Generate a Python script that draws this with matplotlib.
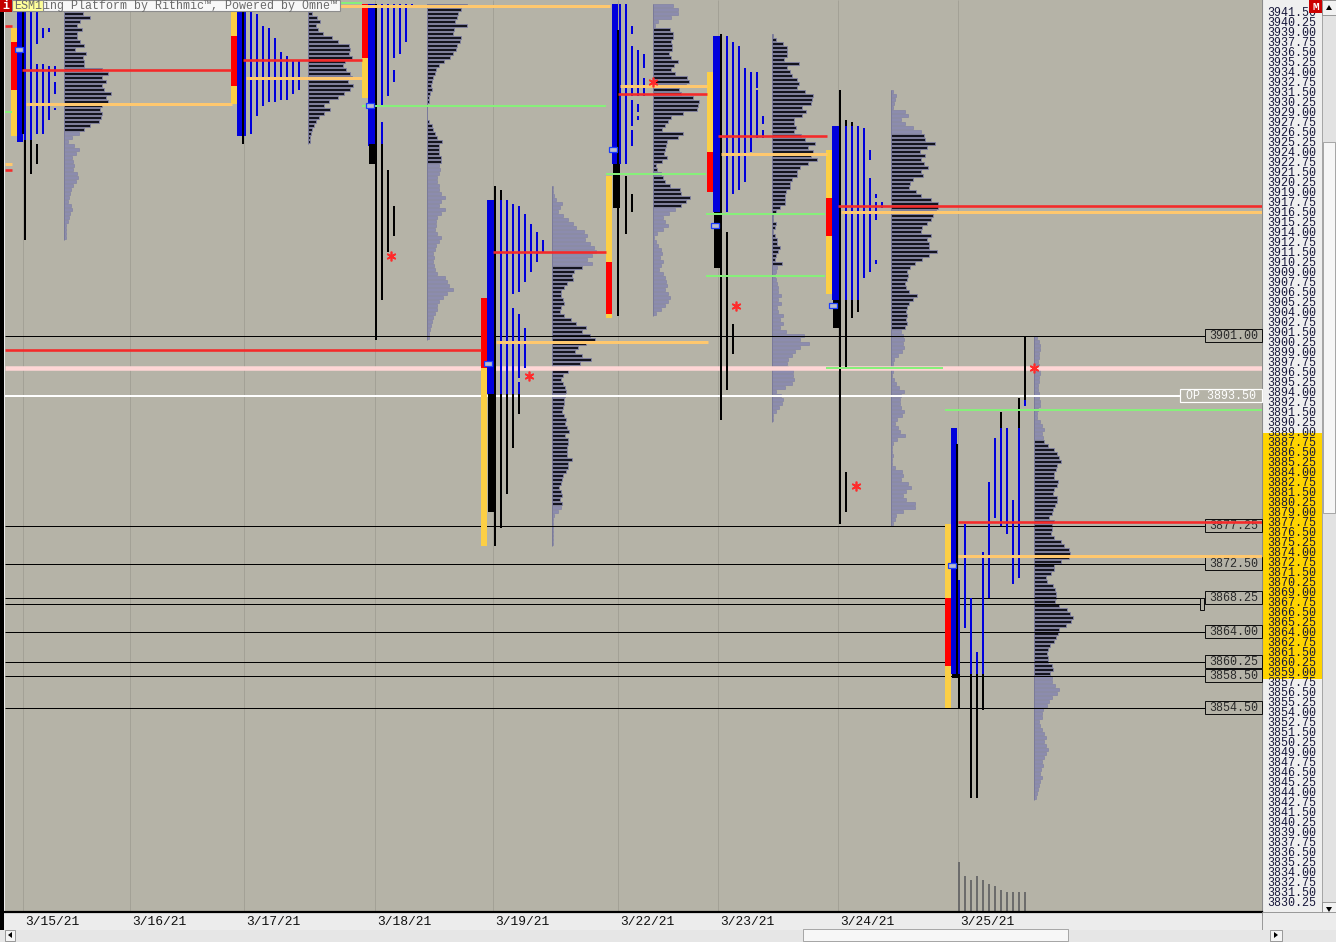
import numpy as np
import matplotlib.pyplot as plt
from matplotlib.patches import Rectangle, Polygon

plt.rcParams['font.family'] = ['Liberation Mono', 'DejaVu Sans Mono']

# ---------------- data ----------------
dates = ['3/15/21', '3/16/21', '3/17/21', '3/18/21', '3/19/21',
         '3/22/21', '3/23/21', '3/24/21', '3/25/21']
date_x = [23, 130, 244, 375, 493, 618, 718, 838, 958]

# session layout for the 8 days that have data (3/16 is empty)
va_x = [11, 231, 362, 481, 606, 707, 826, 945]
wide_w = [6, 6, 8, 8, 6, 8, 8, 6]
adj_x = [23, 243, 376, 495, 618, 721, 840, 957]
col0 = [25, 245, 382, 501, 620, 727, 846, 959]
prof_x = [64, 308, 427, 552, 653, 772, 891, 1034]

# value-area bar on the left of each day: (lo, hi, colour)
va_bars = [
    [(3937.75, 3939.5, 'y'), (3931.75, 3937.75, 'r'), (3926.0, 3931.75, 'y')],
    [(3938.5, 3941.5, 'y'), (3932.25, 3938.5, 'r'), (3930.0, 3932.25, 'y')],
    [(3935.75, 3942.5, 'r'), (3930.75, 3935.75, 'y')],
    [(3897.0, 3905.75, 'r'), (3874.75, 3897.0, 'y')],
    [(3910.25, 3921.0, 'y'), (3903.75, 3910.25, 'r'), (3903.25, 3903.75, 'y')],
    [(3924.0, 3934.0, 'y'), (3919.0, 3924.0, 'r')],
    [(3918.25, 3924.25, 'y'), (3913.5, 3918.25, 'r'), (3906.25, 3913.5, 'y')],
    [(3868.25, 3877.5, 'y'), (3859.75, 3868.25, 'r'), (3854.5, 3859.75, 'y')],
]
# first (opening) period column, blue
wide_rng = [(3925.25, 3943.0), (3926.0, 3941.5), (3924.75, 3942.5), (3893.75, 3918.0),
            (3922.5, 3942.5), (3916.5, 3938.5), (3905.5, 3927.25), (3858.75, 3889.5)]
# black block under the opening column
wide_blk = [None, None, (3922.5, 3925.0), (3879.0, 3893.75),
            (3917.0, 3922.5), (3909.5, 3916.5), (3902.0, 3905.5), (3858.25, 3858.75)]
# thin black line next to the opening column
adj_rng = [(3926.25, 3943.0), (3925.0, 3941.5), (3900.5, 3942.5), (3874.75, 3919.75),
           (3903.5, 3939.25), (3890.5, 3938.75), (3877.5, 3931.75), (3858.25, 3887.5)]

# TPO period columns: list of (lo, hi, colour) per period
tpo_0315 = [
    [(3925.5, 3943.0, 'b'), (3913.0, 3925.5, 'k')],
    [(3925.5, 3941.5, 'b'), (3921.25, 3925.5, 'k')],
    [(3937.5, 3941.5, 'b'), (3926.25, 3935.0, 'b'), (3922.5, 3925.0, 'k')],
    [(3938.25, 3939.5, 'b'), (3926.25, 3935.0, 'b')],
    [(3939.0, 3939.5, 'b'), (3928.0, 3934.75, 'b')],
    [(3933.5, 3934.75, 'b'), (3931.25, 3932.75, 'b'), (3929.25, 3929.5, 'b')],
]
tpo_0317 = [
    [(3926.0, 3941.5, 'b')], [(3926.25, 3941.5, 'b')], [(3928.5, 3941.25, 'b')],
    [(3929.75, 3939.75, 'b')], [(3930.25, 3939.5, 'b')], [(3930.25, 3938.25, 'b')],
    [(3930.5, 3936.5, 'b')], [(3930.5, 3936.0, 'b')], [(3931.25, 3935.5, 'b')],
    [(3931.75, 3935.5, 'b')],
]
tpo_0318 = [
    [(3929.75, 3942.5, 'b'), (3925.0, 3927.75, 'b'), (3905.5, 3925.0, 'k')],
    [(3931.0, 3942.5, 'b'), (3911.5, 3921.75, 'k')],
    [(3935.75, 3942.5, 'b'), (3932.75, 3934.25, 'b'), (3913.5, 3917.25, 'k')],
    [(3936.25, 3942.5, 'b')],
    [(3937.75, 3942.5, 'b')],
    [(3942.0, 3942.5, 'b')],
]
tpo_0319 = [
    [(3918.0, 3919.25, 'k'), (3893.75, 3918.0, 'b'), (3877.0, 3893.75, 'k')],
    [(3893.75, 3918.0, 'b'), (3881.25, 3893.75, 'k')],
    [(3906.25, 3917.5, 'b'), (3893.75, 3904.5, 'b'), (3887.0, 3893.75, 'k')],
    [(3906.5, 3917.25, 'b'), (3895.75, 3903.75, 'b'), (3893.75, 3895.25, 'b'),
     (3891.25, 3893.75, 'k')],
    [(3907.75, 3916.25, 'b'), (3897.0, 3902.0, 'b')],
    [(3909.0, 3915.0, 'b')],
    [(3910.25, 3914.0, 'b')],
    [(3911.5, 3913.0, 'b')],
]
tpo_0322 = [
    [(3922.5, 3942.5, 'b')],
    [(3922.5, 3942.5, 'b'), (3913.75, 3921.0, 'k')],
    [(3938.75, 3939.75, 'b'), (3931.0, 3937.25, 'b'), (3927.25, 3930.5, 'b'),
     (3924.75, 3926.75, 'b'), (3916.5, 3918.75, 'k')],
    [(3931.0, 3936.75, 'b'), (3929.0, 3930.0, 'b'), (3928.0, 3928.5, 'b')],
    [(3934.5, 3936.25, 'b'), (3931.0, 3933.25, 'b')],
]
tpo_0323 = [
    [(3916.5, 3938.5, 'b'), (3894.25, 3914.0, 'k')],
    [(3918.75, 3937.75, 'b'), (3898.75, 3902.5, 'k')],
    [(3919.25, 3937.25, 'b')],
    [(3920.25, 3934.5, 'b')],
    [(3924.0, 3934.0, 'b')],
    [(3932.0, 3934.0, 'b'), (3925.75, 3931.75, 'b')],
    [(3927.5, 3928.5, 'b'), (3925.75, 3926.75, 'b')],
]
tpo_0324 = [
    [(3927.25, 3928.0, 'k'), (3905.5, 3927.25, 'b'), (3897.0, 3905.5, 'k'), (3879.0, 3884.0, 'k')],
    [(3927.25, 3927.75, 'k'), (3905.5, 3927.25, 'b'), (3903.25, 3905.5, 'k')],
    [(3905.5, 3927.25, 'b'), (3904.0, 3905.5, 'k')],
    [(3908.25, 3927.0, 'b')],
    [(3923.0, 3924.25, 'b'), (3909.0, 3920.75, 'b')],
    [(3918.25, 3918.75, 'b'), (3915.5, 3917.75, 'b'), (3910.0, 3910.5, 'b')],
    [(3917.0, 3917.75, 'b')],
]
tpo_0325 = [
    [(3858.75, 3870.5, 'b'), (3854.5, 3858.75, 'k')],
    [(3864.5, 3877.5, 'b')],
    [(3858.75, 3868.25, 'b'), (3843.25, 3858.75, 'k')],
    [(3858.75, 3861.5, 'b'), (3843.25, 3858.75, 'k')],
    [(3858.75, 3874.0, 'b'), (3854.25, 3858.75, 'k')],
    [(3868.25, 3882.75, 'b')],
    [(3878.25, 3888.25, 'b')],
    [(3889.5, 3891.5, 'k'), (3877.25, 3889.5, 'b')],
    [(3876.25, 3889.5, 'b')],
    [(3870.0, 3880.5, 'b')],
    [(3889.5, 3893.25, 'k'), (3870.75, 3889.5, 'b')],
    [(3893.0, 3901.0, 'k'), (3892.25, 3893.0, 'b')],
]
tpo_cols = [tpo_0315, tpo_0317, tpo_0318, tpo_0319, tpo_0322, tpo_0323, tpo_0324, tpo_0325]

# volume profiles, 0.5 point bins going down from the top price
prof_top = [3941.5, 3941.5, 3942.5, 3919.75, 3942.5, 3938.75, 3931.75, 3901.0]
prof_va = [(3926.5, 3943.0), (3924.0, 3943.0), (3922.5, 3943.0), (3879.75, 3909.75),
           (3917.0, 3939.5), (3909.75, 3939.0), (3901.75, 3926.0), (3858.75, 3887.75)]
prof_0315 = [19, 26, 16, 13, 18, 13, 13, 16, 20, 11, 22, 19, 20, 20, 38, 44, 38, 42, 38, 40,
             47, 42, 44, 38, 36, 38, 37, 35, 26, 20, 15, 8, 4, 10, 15, 12, 8, 9, 10, 9,
             13, 14, 12, 9, 7, 6, 5, 4, 7, 8, 6, 5, 4, 2, 2, 2, 2]
prof_0317 = [4, 9, 12, 8, 10, 15, 24, 30, 41, 42, 41, 44, 37, 35, 38, 42, 44, 40, 45, 42,
             36, 30, 21, 16, 22, 16, 11, 8, 6, 4, 3, 2, 2]
prof_0318 = [40, 34, 31, 30, 28, 40, 27, 26, 34, 33, 30, 29, 26, 23, 17, 12, 9, 8, 6, 5,
             4, 5, 3, 2, 2, 0, 0, 0, 0, 2, 5, 6, 8, 10, 15, 12, 12, 12, 14, 14,
             12, 13, 12, 10, 10, 12, 12, 14, 18, 14, 12, 18, 14, 10, 9, 9, 8, 10, 14, 12,
             9, 8, 6, 7, 6, 7, 8, 10, 18, 20, 22, 26, 20, 16, 12, 10, 10, 8, 6, 5,
             4, 3, 2, 2]
prof_0319 = [1, 1, 2, 4, 10, 8, 6, 11, 16, 21, 24, 32, 35, 33, 38, 42, 44, 40, 35, 40,
             30, 22, 20, 21, 15, 12, 9, 9, 11, 12, 9, 8, 12, 19, 24, 34, 30, 38, 43, 34,
             26, 23, 30, 39, 28, 17, 16, 11, 9, 11, 13, 14, 13, 12, 12, 11, 10, 12, 14, 13,
             15, 17, 13, 16, 16, 15, 15, 15, 20, 16, 16, 14, 11, 10, 9, 7, 9, 10, 8, 10,
             9, 6, 2, 1, 1, 1, 1, 1, 1, 1]
prof_0322 = [20, 25, 25, 18, 5, 2, 17, 20, 20, 18, 19, 19, 16, 18, 25, 21, 18, 22, 34, 36,
             33, 26, 28, 40, 46, 45, 44, 30, 18, 15, 12, 9, 30, 25, 14, 13, 12, 11, 14, 9,
             3, 4, 8, 10, 12, 17, 27, 28, 37, 33, 28, 22, 16, 10, 12, 15, 10, 4, 1, 3,
             5, 8, 9, 7, 10, 8, 6, 10, 12, 13, 14, 12, 15, 17, 15, 12, 8, 3]
prof_0323 = [1, 4, 11, 15, 15, 15, 12, 27, 15, 18, 20, 25, 27, 25, 33, 41, 40, 39, 30, 34,
             30, 22, 22, 24, 22, 29, 33, 43, 36, 41, 39, 45, 36, 28, 25, 25, 20, 18, 18, 14,
             13, 13, 13, 8, 4, 1, 1, 4, 3, 1, 3, 5, 5, 8, 6, 4, 3, 10, 5, 4,
             3, 4, 5, 6, 6, 9, 6, 9, 5, 6, 11, 8, 11, 8, 14, 32, 28, 37, 28, 23,
             20, 16, 15, 16, 21, 21, 22, 20, 13, 4, 9, 11, 10, 7, 4, 1, 1]
prof_0324 = [2, 5, 4, 3, 2, 14, 17, 10, 14, 22, 30, 33, 34, 44, 36, 29, 34, 30, 33, 37,
             30, 32, 22, 19, 18, 25, 30, 40, 47, 47, 45, 42, 40, 36, 31, 30, 40, 36, 38, 38,
             46, 38, 31, 24, 19, 16, 17, 16, 14, 15, 18, 26, 22, 18, 16, 15, 16, 15, 16, 14,
             10, 12, 13, 12, 13, 11, 7, 3, 2, 2, 2, 1, 3, 5, 8, 13, 10, 9, 9, 10,
             13, 11, 6, 4, 7, 9, 14, 6, 2, 1, 1, 2, 1, 1, 4, 11, 12, 10, 17, 20,
             15, 12, 15, 24, 24, 12, 5, 4, 2]
prof_0325 = [3, 5, 6, 6, 5, 5, 4, 5, 6, 6, 5, 5, 4, 4, 5, 5, 6, 6, 4, 3,
             3, 6, 8, 10, 8, 9, 10, 14, 20, 23, 25, 27, 23, 22, 20, 20, 24, 23, 20, 19,
             23, 23, 21, 19, 18, 15, 20, 18, 18, 17, 20, 27, 30, 35, 36, 35, 27, 20, 20, 17,
             12, 13, 19, 21, 22, 22, 21, 25, 33, 36, 39, 37, 32, 25, 24, 22, 20, 16, 14, 13,
             14, 14, 18, 19, 16, 18, 18, 21, 25, 23, 18, 15, 13, 9, 8, 8, 5, 6, 8, 10,
             12, 10, 12, 14, 12, 10, 8, 9, 7, 6, 8, 6, 5, 4, 3, 2]
profiles = [prof_0315, prof_0317, prof_0318, prof_0319, prof_0322, prof_0323, prof_0324, prof_0325]

# extended reference lines: (price, x from, x to)
poc_lines = [(3934.25, 22, 231), (3935.5, 243, 362), (3899.25, 5, 481), (3911.5, 493, 606),
             (3931.25, 618, 707), (3926.0, 718, 827), (3917.25, 838, 1262),
             (3877.75, 958, 1262), (3939.75, 5, 12), (3921.75, 5, 12)]
vwap_lines = [(3930.0, 26, 232), (3933.25, 246, 362), (3942.25, 340, 610),
              (3900.25, 496, 708), (3932.25, 620, 707), (3923.75, 721, 827),
              (3916.5, 841, 1262), (3873.5, 958, 1262), (3922.5, 5, 12)]
green_lines = [(3929.0, 5, 12), (3942.6, 340, 362), (3929.75, 362, 606), (3921.25, 606, 706),
               (3916.25, 706, 825), (3908.5, 706, 825), (3897.0, 826, 943),
               (3891.75, 945, 1262)]
level_prices = [3901.00, 3877.25, 3872.50, 3868.25, 3864.00, 3860.25, 3858.50, 3854.50]
extra_level = 3867.50
open_price = 3893.50
pink_price = 3897.0

single_marks = [(391, 3911.0), (529, 3896.0), (653, 3932.75), (736, 3904.75),
                (856, 3882.25), (1034, 3897.0)]
open_marks = [(15, 3936.75), (366, 3929.75), (484, 3897.5), (609, 3924.25),
              (711, 3914.75), (829, 3904.75), (948, 3872.25)]
vol_0325 = [50, 36, 32, 36, 32, 28, 26, 22, 20, 20, 20, 20]

# ---------------- styles ----------------
W, H = 1336, 942
BG = '#b5b3a7'
BLUE = '#0000dc'
COL = {'b': BLUE, 'k': '#000000', 'y': '#fccf45', 'r': '#ff0000'}
PX = 0.72  # points per pixel at 100 dpi
P_TOP = 3941.5 + 11.7 / 8
P_BOT = P_TOP - 912 / 8


def frac(x0, y0, x1, y1):
    return [x0 / W, 1 - y1 / H, (x1 - x0) / W, (y1 - y0) / H]


fig = plt.figure(figsize=(W / 100, H / 100), dpi=100)
fig.patch.set_facecolor('#ececec')

# price scale panel
pan = fig.add_axes(frac(1262, 0, 1322, 915))
pan.set_xlim(0, 1)
pan.set_ylim(P_TOP - 915 / 8, P_TOP)
pan.set_facecolor('#efefef')
pan.axhspan(3858.1, 3888.8, color='#ffd400', lw=0)
pan.set_xticks([])
pan.set_yticks([])
for s in pan.spines.values():
    s.set_visible(False)
pan.spines['left'].set_visible(True)
pan.spines['left'].set_color('#8a8a8a')

ax = fig.add_axes(frac(5, 0, 1262, 912))
ax.set_xlim(5, 1262)
ax.set_ylim(P_BOT, P_TOP)
ax.set_facecolor(BG)
for s in ax.spines.values():
    s.set_visible(False)
ax.set_xticks([])
ticks = np.arange(3830.25, 3941.6, 1.25)
ax.yaxis.tick_right()
ax.set_yticks(ticks, [f'{t:.2f}' for t in ticks])
ax.tick_params(axis='y', length=0, pad=4, labelsize=8.4, labelcolor='#16163a')

# day separators
ax.vlines(date_x, P_BOT, P_TOP, color='#a3a196', lw=1 * PX, zorder=0.5)

# volume profiles
for i, w in enumerate(profiles):
    w = np.array(w, dtype=float)
    c = prof_top[i] - 0.5 * np.arange(len(w)) - 0.25
    lo, hi = prof_va[i]
    dark = (c >= lo) & (c <= hi)
    ax.barh(c[~dark], w[~dark], left=prof_x[i], height=0.36, color='#8c8cae',
            edgecolor='#7c7ca2', lw=0.4, zorder=1)
    ax.barh(c[dark], w[dark], left=prof_x[i], height=0.34, color='#14141e',
            edgecolor='#8484a6', lw=0.6, zorder=1)
    ax.vlines(prof_x[i], c[-1] - 0.25, c[0] + 0.25, color='#7a7a9a', lw=1 * PX, zorder=1.1)

# level lines and reference bands
ax.hlines(pink_price, 5, 1262, color='#ffd6d6', lw=4.5 * PX, zorder=1.5)
ax.hlines(open_price, 5, 1180, color='#ffffff', lw=2 * PX, zorder=1.5)
ax.hlines(level_prices, 5, 1205, color='#000000', lw=1 * PX, zorder=1.5)
ax.hlines(extra_level, 5, 1200, color='#000000', lw=1 * PX, zorder=1.5)

# TPO columns
for i in range(len(va_x)):
    x0 = va_x[i]
    for lo, hi, c in va_bars[i]:
        ax.bar(x0 + 2.75, hi - lo, bottom=lo, width=5.5, color=COL[c], lw=0, zorder=3)
    lo, hi = wide_rng[i]
    ax.bar(x0 + 5.5 + wide_w[i] / 2, hi - lo, bottom=lo, width=wide_w[i], color=BLUE,
           lw=0, zorder=3)
    if wide_blk[i]:
        lo, hi = wide_blk[i]
        ax.bar(x0 + 10.5, hi - lo, bottom=lo, width=7, color='#000000', lw=0, zorder=3)
    lo, hi = adj_rng[i]
    ax.bar(adj_x[i], hi - lo, bottom=lo, width=2, color='#000000', lw=0, zorder=3.1)
    for k, segs in enumerate(tpo_cols[i]):
        for lo, hi, c in segs:
            ax.bar(col0[i] + 6 * k, hi - lo, bottom=lo, width=2.6, color=COL[c],
                   lw=0, zorder=3)

# POC / VWAP / other lines
for p, a, b in green_lines:
    ax.hlines(p, a, b, color='#86f07a', lw=2 * PX, zorder=4)
for p, a, b in vwap_lines:
    ax.hlines(p, a, b, color='#ffc86e', lw=3 * PX, zorder=4)
for p, a, b in poc_lines:
    ax.hlines(p, a, b, color='#f42a2a', lw=2.6 * PX, zorder=4.1)

for x, p in single_marks:
    ax.plot(x, p, marker=(6, 2, 0), ms=7, mew=1.2, color='#ff2a2a', zorder=5)
for x, p in open_marks:
    ax.add_patch(Rectangle((x, p - 0.3), 8, 0.6, fc='#b8bccc', ec='#1a3cff',
                           lw=0.9, zorder=5))

# labelled level boxes on the right
for p in level_prices:
    ax.add_patch(Rectangle((1205, p - 0.8), 57, 1.6, fc=BG, ec='#101010', lw=1 * PX,
                           zorder=3.5, clip_on=False))
    ax.text(1233.5, p, f'{p:.2f}', ha='center', va='center', fontsize=8.4,
            color='#2a2a2a', zorder=3.6)
ax.add_patch(Rectangle((1200, extra_level - 0.75), 4, 1.5, fc=BG, ec='#101010',
                       lw=1 * PX, zorder=3.5))
ax.add_patch(Rectangle((1180, open_price - 0.8), 82, 1.6, fc=BG, ec='#ffffff',
                       lw=1.2 * PX, zorder=3.5, clip_on=False))
ax.text(1221, open_price, f'OP {open_price:.2f}', ha='center', va='center',
        fontsize=8.4, color='#ffffff', zorder=3.6)

# volume bars of the last session
vax = fig.add_axes(frac(5, 852, 1262, 912))
vax.set_xlim(5, 1262)
vax.set_ylim(0, 60)
vax.axis('off')
vax.patch.set_alpha(0)
vax.bar([col0[-1] + 6 * k for k in range(len(vol_0325))], vol_0325, width=2,
        color='#6c6c6c', lw=0)

# date band
dax = fig.add_axes(frac(5, 912, 1262, 930))
dax.set_xlim(5, 1262)
dax.set_ylim(0, 1)
dax.set_facecolor('#ececec')
dax.set_xticks([])
dax.set_yticks([])
for k, s in dax.spines.items():
    s.set_visible(k == 'top')
dax.spines['top'].set_linewidth(1.6)
for d, x in zip(dates, date_x):
    dax.text(x + 2, 0.45, d, ha='left', va='center', fontsize=9.4, color='#111111')

# window chrome
cax = fig.add_axes([0, 0, 1, 1])
cax.set_xlim(0, W)
cax.set_ylim(H, 0)
cax.axis('off')
cax.patch.set_alpha(0)
cax.add_patch(Rectangle((0, 0), 4, 930, fc='#000000', lw=0))
cax.add_patch(Rectangle((12, 0), 328, 11, fc='#f8f8f8', ec='#8c8c8c', lw=0.8))
cax.add_patch(Rectangle((12, 0), 31, 11, fc='#ffff9a', ec='#8c8c8c', lw=0.8))
cax.text(14, 6, 'ESM1', ha='left', va='center', fontsize=8.4, color='#6a6a6a')
cax.text(43, 6, 'ing Platform by Rithmic\u2122, Powered by Omne\u2122', ha='left',
         va='center', fontsize=8.4, color='#6a6a6a')
cax.add_patch(Rectangle((0, 0), 12, 12, fc='#c40000', lw=0))
cax.text(6, 6, 'i', ha='center', va='center', fontsize=8.5, color='white', fontweight='bold')
cax.add_patch(Rectangle((1309, 0), 13, 13, fc='#cc0000', lw=0))
cax.text(1315.5, 6.5, 'M', ha='center', va='center', fontsize=8, color='white',
         fontweight='bold')
# vertical scrollbar
cax.add_patch(Rectangle((1322, 0), 14, 916, fc='#e2e2e2', ec='#9a9a9a', lw=0.6))
cax.add_patch(Rectangle((1322, 0), 14, 15, fc='#f2f2f2', ec='#8a8a8a', lw=0.6))
cax.add_patch(Polygon([(1326, 10), (1332, 10), (1329, 5)], fc='#000000'))
cax.add_patch(Rectangle((1323, 142), 12, 371, fc='#f6f6f6', ec='#9a9a9a', lw=0.6))
cax.add_patch(Rectangle((1322, 902), 14, 14, fc='#f2f2f2', ec='#8a8a8a', lw=0.6))
cax.add_patch(Polygon([(1326, 907), (1332, 907), (1329, 912)], fc='#000000'))
cax.add_patch(Rectangle((1262, 912), 74, 18, fc='#ececec', ec='#8a8a8a', lw=0.6))
# horizontal scrollbar
cax.add_patch(Rectangle((0, 930), W, 12, fc='#e6e6e6', lw=0))
cax.add_patch(Rectangle((5, 930), 10, 11, fc='#f4f4f4', ec='#8a8a8a', lw=0.6))
cax.add_patch(Polygon([(12, 932), (12, 938), (8, 935)], fc='#000000'))
cax.add_patch(Rectangle((803, 929), 265, 12, fc='#f7f7f7', ec='#9a9a9a', lw=0.6))
cax.add_patch(Rectangle((1270, 930), 12, 11, fc='#f4f4f4', ec='#8a8a8a', lw=0.6))
cax.add_patch(Polygon([(1274, 932), (1274, 938), (1278, 935)], fc='#000000'))

fig.savefig('out.png', dpi=100, facecolor=fig.get_facecolor())
